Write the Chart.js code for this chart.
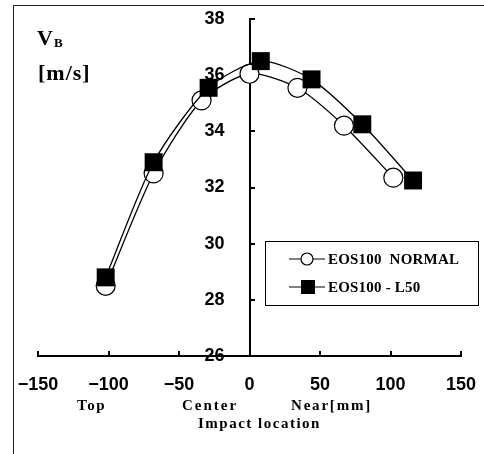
<!DOCTYPE html>
<html>
<head>
<meta charset="utf-8">
<script src="https://cdn.jsdelivr.net/npm/chart.js@4/dist/chart.umd.min.js"></script>
<style>
  body { margin: 0; background: #fff; }
  #wrap { position: relative; width: 484px; height: 454px; }
  #frame { position: absolute; left: 13px; top: 5px; right: -2px; bottom: -2px;
    border-left: 1.5px solid #222; border-top: 1.5px solid #222; }
  canvas { position: absolute; left: 0; top: 0; }
  .lbl { position: absolute; font-family: "Liberation Serif", serif; font-weight: bold;
    color: #000; white-space: nowrap; line-height: 1; }
</style>
</head>
<body>
<div id="wrap">
  <div id="frame"></div>
  <canvas id="c" width="484" height="454"></canvas>
  <div class="lbl" style="left:37px;top:27px;font-size:22px;">V<span style="font-size:13px;position:relative;top:2px;margin-left:1px;">B</span></div>
  <div class="lbl" style="left:38px;top:62px;font-size:22px;letter-spacing:1px;">[m/s]</div>
  <div class="lbl" style="left:77px;top:398px;font-size:15px;letter-spacing:1.5px;">Top</div>
  <div class="lbl" style="left:182px;top:398px;font-size:15px;letter-spacing:2px;">Center</div>
  <div class="lbl" style="left:291px;top:398px;font-size:15px;letter-spacing:1.8px;">Near[mm]</div>
  <div class="lbl" style="left:198px;top:416px;font-size:15px;letter-spacing:1.5px;">Impact location</div>
</div>
<script>
// positions along the ball (mm) and rebound speed (m/s)
const normalX = [-102, -68, -34, 0, 34, 67, 102];
const normalV = [28.5, 32.5, 35.1, 36.05, 35.55, 34.2, 32.35];
const l50X = [-102, -68, -29, 8, 44, 80, 116];
const l50V = [28.8, 32.9, 35.55, 36.5, 35.85, 34.25, 32.25];

const xTicks = [-150, -100, -50, 0, 50, 100, 150];
const yMin = 26, yMax = 38, yStep = 2;

const toPts = (xs, ys) => xs.map((x, i) => ({ x: x, y: ys[i] }));

const tickFont = { family: "'Liberation Sans', Arial, sans-serif", size: 18, weight: "bold" };

// axes sit inside the plot, so they must not eat any layout space
const noSpace = (s) => {
  if (s.isHorizontal()) s.height = 0; else s.width = 0;
  s.paddingLeft = s.paddingRight = s.paddingTop = s.paddingBottom = 0;
};

// legend drawn inside the plot, like the original
const boxLegend = {
  id: "boxLegend",
  afterDraw(chart) {
    const ctx = chart.ctx;
    ctx.save();
    ctx.strokeStyle = "#000";
    ctx.lineWidth = 1;
    ctx.strokeRect(265.5, 241.5, 213, 64);
    const rows = [chart.data.datasets[1], chart.data.datasets[0]];
    rows.forEach((ds, i) => {
      const y = 259 + i * 28;
      ctx.beginPath();
      ctx.moveTo(289, y);
      ctx.lineTo(325, y);
      ctx.lineWidth = 1.2;
      ctx.stroke();
      ctx.fillStyle = ds.pointBackgroundColor;
      if (ds.pointStyle === "circle") {
        ctx.beginPath();
        ctx.arc(307, y, 6, 0, Math.PI * 2);
        ctx.fill();
        ctx.stroke();
      } else {
        ctx.fillRect(301, y - 7, 14, 14);
      }
      ctx.fillStyle = "#000";
      ctx.font = "bold 15px 'Liberation Serif', serif";
      ctx.letterSpacing = "0.2px";
      ctx.textBaseline = "middle";
      ctx.fillText(ds.label, 328, y + 1);
    });
    ctx.restore();
  },
};

new Chart(document.getElementById("c"), {
  type: "scatter",
  data: {
    datasets: [
      {
        label: "EOS100 - L50",
        data: toPts(l50X, l50V),
        order: 0,
        showLine: true,
        tension: 0.25,
        borderColor: "#000",
        borderWidth: 1.3,
        pointStyle: "rect",
        pointRadius: 12.7,
        pointBackgroundColor: "#000",
        pointBorderColor: "#000",
        pointBorderWidth: 0,
      },
      {
        label: "EOS100  NORMAL",
        data: toPts(normalX, normalV),
        order: 1,
        showLine: true,
        tension: 0.25,
        borderColor: "#000",
        borderWidth: 1.3,
        pointStyle: "circle",
        pointRadius: 9.5,
        pointBackgroundColor: "#fff",
        pointBorderColor: "#000",
        pointBorderWidth: 1.2,
      },
    ],
  },
  options: {
    responsive: false,
    animation: false,
    events: [],
    layout: { padding: { left: 38, right: 23, top: 19, bottom: 98 } },
    plugins: { legend: { display: false }, tooltip: { enabled: false } },
    scales: {
      x: {
        type: "linear",
        position: { y: yMin },
        min: -150,
        max: 150,
        afterBuildTicks: (s) => { s.ticks = xTicks.map((v) => ({ value: v })); },
        afterFit: noSpace,
        border: { display: true, color: "#000", width: 2 },
        grid: { drawOnChartArea: false, drawTicks: true, tickLength: -6, color: "#000", lineWidth: 2 },
        ticks: {
          color: "#000",
          font: tickFont,
          padding: 24,
          maxRotation: 0,
          callback: (v) => (v < 0 ? "\u2212" + Math.abs(v) : String(v)),
        },
      },
      y: {
        type: "linear",
        position: "center",
        min: yMin,
        max: yMax,
        afterFit: noSpace,
        border: { display: true, color: "#000", width: 2 },
        grid: { drawOnChartArea: false, drawTicks: true, tickLength: -6, color: "#000", lineWidth: 2 },
        ticks: { stepSize: yStep, color: "#000", font: tickFont, padding: 31 },
      },
    },
  },
  plugins: [boxLegend],
});
</script>
</body>
</html>
